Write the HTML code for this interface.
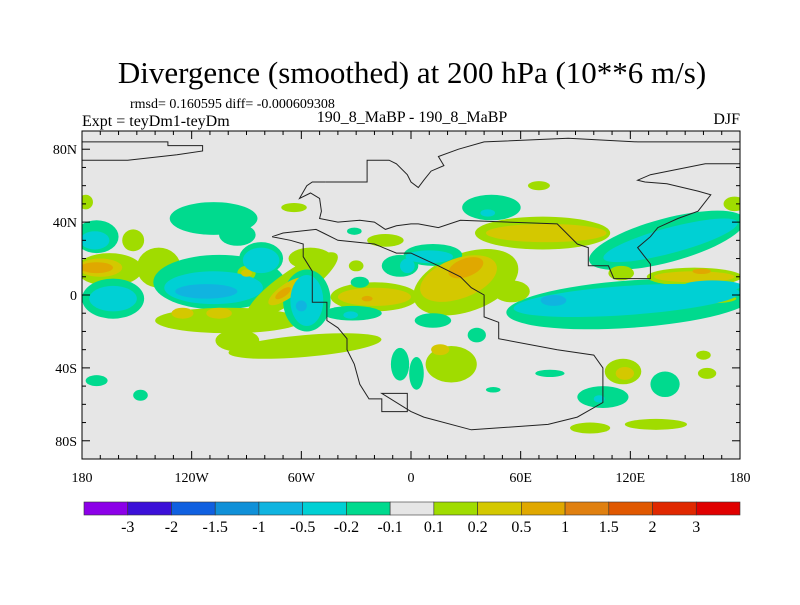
<!DOCTYPE html>
<html><head><meta charset="utf-8"><style>
body{margin:0;background:#fff;}
svg text{font-family:"Liberation Serif",serif;fill:#000;}
</style></head><body>
<svg id="chart" width="800" height="600" viewBox="0 0 800 600" xmlns="http://www.w3.org/2000/svg">
<text x="412" y="83" font-size="31" text-anchor="middle">Divergence (smoothed) at 200 hPa (10**6 m/s)</text>
<text x="130" y="108" font-size="14">rmsd= 0.160595 diff= -0.000609308</text>
<text x="82" y="126" font-size="16">Expt = teyDm1-teyDm</text>
<text x="412" y="122" font-size="16" text-anchor="middle">190_8_MaBP - 190_8_MaBP</text>
<text x="740" y="124" font-size="16" text-anchor="end">DJF</text>
<defs><clipPath id="pc"><rect x="82" y="131" width="658" height="328"/></clipPath></defs>
<rect x="82" y="131" width="658" height="328" fill="#e6e6e6"/>
<g id="blobs" clip-path="url(#pc)"></g>
<g id="coast" clip-path="url(#pc)"></g>
<rect x="82" y="131" width="658" height="328" fill="none" stroke="#000" stroke-width="1"/>
<g id="ticks"></g>
<g id="colorbar"></g>
</svg>
<script>
const colors=["#8c00e8","#3c10d8","#1060e0","#1090d8","#10b4e0","#00d0d4","#00da8e","#e6e6e6","#a0dc00","#d4c800","#e0a800","#e08010","#e05800","#e02800","#e00000"];
const colorbarLabels=["-3","-2","-1.5","-1","-0.5","-0.2","-0.1","0.1","0.2","0.5","1","1.5","2","3"];
const colorbarColors=["#8c00e8","#3c10d8","#1060e0","#1090d8","#10b4e0","#00d0d4","#00da8e","#e6e6e6","#a0dc00","#d4c800","#e0a800","#e08010","#e05800","#e02800","#e00000"];
const lonTicks=[-180,-120,-60,0,60,120,180];
const lonTickLabels=["180","120W","60W","0","60E","120E","180"];
const latTicks=[80,40,0,-40,-80];
const latTickLabels=["80N","40N","0","40S","80S"];
// blobs: lon, lat, rx(deg), ry(deg), color bin, rotation
const blobLon=[-108,-95,-172,-173,-152,-165,-138,-170,-172,-163,-163,-105,-108,-112,-82,-82,-90,-90,-100,-125,-105,-65,-68,-70,-55,-57,-57,-60,-58,-95,-20,-20,-24,-32,-33,-28,-30,-31,-14,-6,-2,-6,-172,-148,-64,-178,
70,44,42,72,74,30,26,30,12,10,120,118,78,140,142,155,155,159,165,165,115,177,12,36,22,16,3,76,116,117,105,103,139,162,160,98,134,45,55];
const blobLat=[42,33,32,30,30,14,15,15,15,-2,-2,7,4,2,20,19,12,12,-14,-10,-10,5,2,1,20,-3,-3,-6,-28,-25,-1,-1,-2,-10,-11,7,16,35,30,16,16,-38,-47,-55,48,51,
60,48,45,34,34,7,9,15,22,21,-5,-3,-3,30,30,10,10,13,5,-2,12,50,-14,-22,-38,-30,-43,-43,-42,-43,-56,-57,-49,-43,-33,-73,-71,-52,2];
const blobRx=[24,10,12,8,6,18,12,12,9,17,13,36,27,17,12,10,5,3,40,6,7,30,12,5,12,13,9,3,42,12,24,20,3,16,4,5,4,4,10,10,4,5,6,4,7,4,
6,16,4,37,33,30,22,10,16,13,68,62,7,44,38,26,22,5,16,13,7,6,10,5,14,5,4,8,10,5,14,3,8,5,4,11,17,4,10];
const blobRy=[9,6,9,5,6,9,11,5,3,11,7,15,9,4,9,7,4,2,7,3,3,8,4,2,6,17,14,3,6,6,8,5,1.5,4,2,3,3,2,3.5,6,4,9,3,3,2.5,4,
2.5,7,2,9,5,16,11,5,6,3.5,13,8,3,12,7,5,3,1.5,3,2.5,4,4,4,4,10,3,9,2,7,3.5,6,2,7,3,2.5,3,3,1.5,6];
const blobBin=[6,6,6,5,8,8,8,9,10,6,5,6,5,4,6,5,8,9,8,9,9,8,9,10,8,6,5,4,8,8,8,9,10,6,5,6,8,6,8,6,5,6,6,6,8,8,
8,6,5,8,9,8,9,10,6,5,6,5,4,6,5,8,9,10,5,8,8,8,6,6,8,9,6,6,8,9,6,5,6,8,8,8,8,6,8];
const blobRot=[0,0,0,0,0,0,0,0,0,0,0,0,0,0,0,0,0,0,0,0,0,-35,-35,-35,0,0,0,0,-5,0,0,0,0,0,0,0,0,0,0,0,0,0,0,0,0,0,
0,0,0,0,0,-20,-20,-20,0,0,-4,-4,0,-15,-15,0,0,0,0,0,0,0,0,0,0,0,0,0,0,0,0,0,0,0,0,0,0,0,0];
// coastline outline (lon, lat pairs)
const coastLon=[-180,-133,-133,-114,-114,-128,-155,-180,null,-47,-24,-24,-12,-8,-2,0,4,7,11,18,15,26,40,86,124,180,null,180,161,131,124,128,140,157,164,157,146,135,131,124,131,131,111,108,97,97,91,80,27,15,4,0,-8,-14,-20,-28,-40,-50,-49,-50,-55,-61,-57,-54,-47,null,-76,-66,-59,-59,-54,-54,-46,-46,-40,-35,-35,-31,-28,-23,-16,-16,-2,-2,-16,0,7,33,75,91,105,105,100,80,48,48,40,40,33,27,15,0,-8,-20,-40,-48,-52,-70,-76];
const coastLat=[84,84,82,82,79,77,74,74,null,62,62,74,74,72,66,62,59,63,68,71,76,80,84,86,84,84,null,72,72,66,63,62,61,57,55,46,42,37,32,26,17,9,9,16,16,26,28,39,41,37,39,39,38,36,40,41,40,42,46,53,56,53,60,62,62,null,32,30,28,21,13,-4,-4,-14,-18,-24,-30,-38,-49,-57,-57,-64,-64,-54,-54,-64,-67,-74,-71,-67,-59,-40,-33,-30,-24,-15,-12,0,4,10,16,23,23,28,30,34,36,34,32];
const svgns="http://www.w3.org/2000/svg";
const X=lon=>82+(lon+180)*658/360;
const Y=lat=>295-lat*328/180;
const SX=658/360, SY=328/180;
const bg=document.getElementById('blobs');
const order=blobLon.map((_,i)=>i).sort((a,b)=>Math.abs(blobBin[a]-7)-Math.abs(blobBin[b]-7));
order.forEach(i=>{
  const e=document.createElementNS(svgns,'ellipse');
  const cx=X(blobLon[i]), cy=Y(blobLat[i]);
  e.setAttribute('cx',cx);e.setAttribute('cy',cy);
  e.setAttribute('rx',blobRx[i]*SX);e.setAttribute('ry',blobRy[i]*SY);
  e.setAttribute('fill',colors[blobBin[i]]);
  if(blobRot[i])e.setAttribute('transform','rotate('+blobRot[i]+' '+cx+' '+cy+')');
  
  
  bg.appendChild(e);
});
const cg=document.getElementById('coast');
let seg=[];
function flush(){ if(seg.length>1){const p=document.createElementNS(svgns,'polyline');
  p.setAttribute('points',seg.join(' '));p.setAttribute('fill','none');p.setAttribute('stroke','#222');p.setAttribute('stroke-width','1');
  
  
  cg.appendChild(p);} seg=[]; }
coastLon.forEach((lo,i)=>{ if(lo===null){flush();return;} seg.push(X(lo).toFixed(1)+','+Y(coastLat[i]).toFixed(1)); });
flush();
const tg=document.getElementById('ticks');
function line(x1,y1,x2,y2,name){const l=document.createElementNS(svgns,'line');
  l.setAttribute('x1',x1);l.setAttribute('y1',y1);l.setAttribute('x2',x2);l.setAttribute('y2',y2);l.setAttribute('stroke','#000');
  
  
  tg.appendChild(l);}
for(let lo=-180;lo<=180;lo+=10){const maj=lo%60===0;const x=X(lo);
  line(x,459,x,459-(maj?8:4),'x-tick');line(x,131,x,131+(maj?8:4),'x-tick-top');}
for(let la=-90;la<=90;la+=10){const maj=la%40===0;const y=Y(la);
  line(82,y,82+(maj?8:4),y,'y-tick');line(740,y,740-(maj?8:4),y,'y-tick-right');}
function txt(x,y,s,anchor,size,name){const t=document.createElementNS(svgns,'text');
  t.setAttribute('x',x);t.setAttribute('y',y);t.setAttribute('text-anchor',anchor);t.setAttribute('font-size',size);t.textContent=s;
  
  
  return t;}
lonTicks.forEach((lo,i)=>tg.appendChild(txt(X(lo),482,lonTickLabels[i],'middle',14,'x-tick-label')));
latTicks.forEach((la,i)=>tg.appendChild(txt(77,Y(la)+5,latTickLabels[i],'end',14,'y-tick-label')));
const cb=document.getElementById('colorbar');
const bw=656/colorbarColors.length;
colorbarColors.forEach((c,i)=>{const r=document.createElementNS(svgns,'rect');
  r.setAttribute('x',84+i*bw);r.setAttribute('y',502);r.setAttribute('width',bw);r.setAttribute('height',13);
  r.setAttribute('fill',c);r.setAttribute('stroke','#333');r.setAttribute('stroke-width','0.6');
  
  
  cb.appendChild(r);});
colorbarLabels.forEach((s,i)=>cb.appendChild(txt(84+(i+1)*bw,532,s,'middle',16,'colorbar-label')));
</script>
</body></html>
